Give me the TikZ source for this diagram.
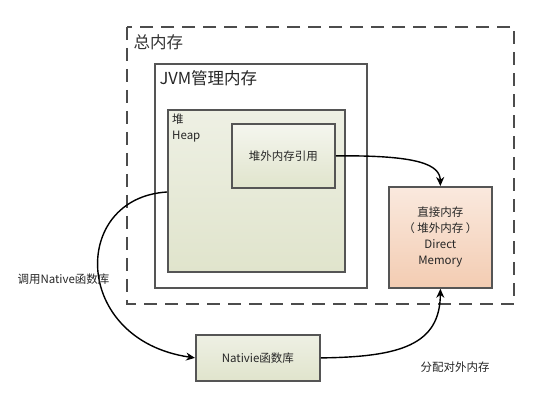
\documentclass[tikz,border=0pt]{standalone}
\usepackage{fontspec}
\setmainfont{Noto Sans CJK SC}
\usetikzlibrary{arrows.meta}
\definecolor{boxline}{HTML}{555555}
\definecolor{gtop}{HTML}{EEF0E4}
\definecolor{gbot}{HTML}{E0E4CC}
\definecolor{ptop}{HTML}{FAE9DE}
\definecolor{pbot}{HTML}{F3CCB2}
\tikzset{
  gbox/.style={draw=boxline, line width=1.8pt, top color=gtop, bottom color=gbot, inner sep=0pt},
  pbox/.style={draw=boxline, line width=1.8pt, top color=ptop, bottom color=pbot, inner sep=0pt},
  wbox/.style={draw=boxline, line width=1.8pt, fill=white, inner sep=0pt},
  conn/.style={line width=1.4pt, -{Stealth[length=9pt,width=8pt]}},
  small/.style={font=\fontsize{11.5}{16}\selectfont, text=black!85},
}
\begin{document}
\begin{tikzpicture}[x=1pt,y=-1pt]
\useasboundingbox (0,0) rectangle (547,406);
% outer dashed
\draw[line width=2pt, draw=black!70, dash pattern=on 13pt off 8pt] (127,27) rectangle (514,304);
\node[anchor=west, font=\fontsize{16.5}{18}\selectfont, text=black!80] (total) at (130,42) {总内存};
% JVM box
\node[wbox, minimum width=212pt, minimum height=224pt, anchor=north west] (jvm) at (154,63) {};
\node[anchor=west, font=\fontsize{16.5}{18}\selectfont, text=black!85] (jvmt) at (156,78) {JVM管理内存};
% heap
\node[gbox, minimum width=177pt, minimum height=162pt, anchor=north west] (heap) at (167,109) {};
\node[small, anchor=north west, align=left, inner sep=0pt] (heapt) at (172,114) {堆\\Heap};
% ref box
\node[gbox, top color=gtop!60!white, minimum width=103pt, minimum height=64pt, anchor=north west] (ref) at (231,123) {};
\node[small] at (ref.center) {堆外内存引用};
% direct box
\node[pbox, minimum width=103pt, minimum height=101pt, anchor=north west] (direct) at (388,186) {};
\node[small, align=center] at (direct.center) {直接内存\\（ 堆外内存 ）\\Direct\\Memory};
% native box
\node[gbox, minimum width=124pt, minimum height=46pt, anchor=north west] (native) at (195,334) {};
\node[small] at (native.center) {Nativie函数库};
% connectors
\coordinate (hl) at (167,192);
\draw[conn] (ref.east) .. controls (420,155) and (440,165) .. (direct.north);
\draw[conn] (hl) .. controls (70,198) and (72,340) .. (native.west);
\draw[conn] (native.east) .. controls (400,357) and (440,345) .. (direct.south);
% labels
\node[small, anchor=west] (l1) at (14,279) {调用Native函数库};
\node[small, anchor=west] (l2) at (417,367) {分配对外内存};
\end{tikzpicture}
\end{document}
